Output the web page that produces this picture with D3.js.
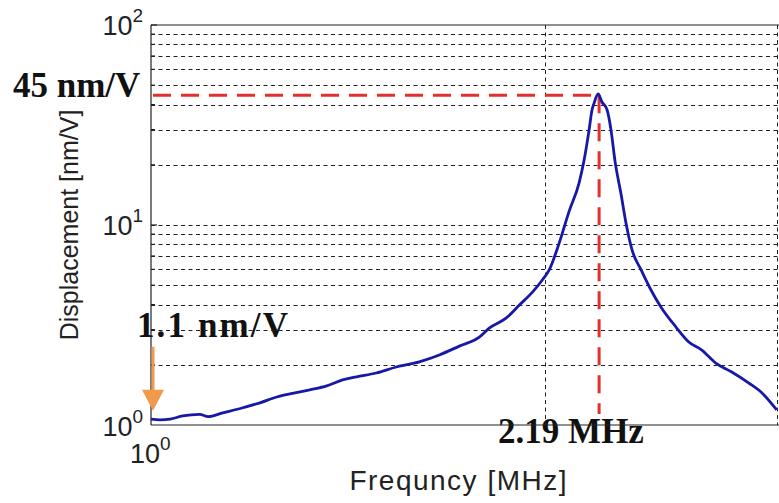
<!DOCTYPE html>
<html>
<head>
<meta charset="utf-8">
<script src="https://cdn.jsdelivr.net/npm/d3@7"></script>
<style>
  body { margin: 0; background: #fff; }
  svg { display: block; }
</style>
</head>
<body>
<svg id="chart"></svg>
<script>
const freq = [1.000, 1.016, 1.034, 1.057, 1.089, 1.105, 1.134, 1.174, 1.210, 1.246,
  1.281, 1.320, 1.360, 1.398, 1.433, 1.483, 1.536, 1.599, 1.656, 1.715,
  1.776, 1.807, 1.862, 1.905, 1.949, 1.983, 2.007, 2.042, 2.078, 2.115,
  2.133, 2.152, 2.163, 2.171, 2.186, 2.201, 2.221, 2.236, 2.252, 2.276,
  2.295, 2.320, 2.357, 2.398, 2.440, 2.505, 2.562, 2.621, 2.686, 2.762,
  2.846, 2.911, 2.988];
const disp = [1.07, 1.06, 1.07, 1.11, 1.13, 1.10, 1.15, 1.22, 1.29, 1.38,
  1.44, 1.50, 1.57, 1.68, 1.74, 1.82, 1.95, 2.07, 2.24, 2.48,
  2.75, 3.05, 3.43, 3.98, 4.62, 5.31, 5.96, 8.1, 11.7, 16.3,
  21.0, 29.9, 37.6, 40.7, 45.2, 41.2, 37.6, 29.9, 20.8, 14.2,
  10.3, 7.5, 5.96, 4.73, 3.89, 3.09, 2.60, 2.37, 2.04, 1.84,
  1.62, 1.45, 1.19];

const yTicks = [1, 10, 100];
const yTickExp = ["0", "1", "2"];
const xTicks = [1];
const xTickExp = ["0"];
const xGrid = [2, 3];

const peakFreq = 2.19;
const peakDisp = 45;
const startDisp = 1.1;

const width = 779, height = 503;
const margin = { top: 25, right: 0, bottom: 78, left: 151 };

const svg = d3.select("#chart").attr("width", width).attr("height", height);

const x = d3.scaleLog().domain([1, 3]).range([margin.left, width - margin.right]);
const y = d3.scaleLog().domain([1, 100]).range([height - margin.bottom, margin.top]);

const data = freq.map((f, i) => ({ f, d: disp[i] }));

// annotation texts sit under the grid, like in the original
const ann = svg.append("g")
  .style("font-family", "'Liberation Serif', 'Times New Roman', serif")
  .style("font-weight", "bold")
  .style("font-size", "35px")
  .attr("fill", "#111");
ann.append("text").attr("x", 13).attr("y", y(peakDisp) + 3).text("45 nm/V");
ann.append("text").attr("x", 137).attr("y", y(startDisp) - 80)
  .attr("textLength", 151).attr("lengthAdjust", "spacing").text("1.1 nm/V");
ann.append("text").attr("x", x(peakFreq) - 101).attr("y", y(1) + 18).text("2.19 MHz");

// grid lines
const minorY = [];
for (let dec = 1; dec < 100; dec *= 10) {
  for (let k = 2; k <= 10; k++) minorY.push(dec * k);
}
const grid = svg.append("g")
  .attr("stroke", "#222")
  .attr("stroke-width", 1)
  .attr("stroke-dasharray", "4,3.5");
grid.selectAll(".hg")
  .data(minorY.filter((v) => v < 100))
  .enter().append("line")
  .attr("x1", x(1)).attr("x2", width)
  .attr("y1", (d) => Math.round(y(d)) + 0.5)
  .attr("y2", (d) => Math.round(y(d)) + 0.5);
grid.selectAll(".vg")
  .data(xGrid)
  .enter().append("line")
  .attr("x1", (d) => Math.round(x(d)) - 1.5)
  .attr("x2", (d) => Math.round(x(d)) - 1.5)
  .attr("y1", y(100)).attr("y2", y(1));

// frame
const frame = svg.append("g").attr("stroke", "#222").attr("stroke-width", 1.2).attr("fill", "none");
frame.append("line").attr("x1", x(1)).attr("x2", width).attr("y1", y(100)).attr("y2", y(100));
frame.append("line").attr("x1", x(1)).attr("x2", width).attr("y1", y(1)).attr("y2", y(1));
frame.append("line").attr("x1", x(1)).attr("x2", x(1)).attr("y1", y(100)).attr("y2", y(1));

// small inward ticks on the left axis
frame.selectAll(".yt")
  .data(minorY)
  .enter().append("line")
  .attr("x1", x(1)).attr("x2", (d) => x(1) + (yTicks.includes(d) ? 6 : 4))
  .attr("y1", (d) => y(d)).attr("y2", (d) => y(d));

// red dashed markers
const red = svg.append("g")
  .attr("stroke", "#e3302f")
  .attr("stroke-width", 3)
  .attr("stroke-dasharray", "18,10")
  .attr("fill", "none");
red.append("line")
  .attr("x1", x(1) + 2).attr("x2", x(peakFreq))
  .attr("y1", y(peakDisp) + 1).attr("y2", y(peakDisp) + 1);
red.append("line")
  .attr("x1", x(peakFreq)).attr("x2", x(peakFreq))
  .attr("y1", y(peakDisp) + 1).attr("y2", y(1) - 11);

// response curve
const line = d3.line()
  .x((d) => x(d.f))
  .y((d) => y(d.d))
  .curve(d3.curveMonotoneX);

svg.append("path")
  .datum(data)
  .attr("fill", "none")
  .attr("stroke", "#1818a8")
  .attr("stroke-width", 2.8)
  .attr("stroke-linejoin", "round")
  .attr("d", line);

// orange arrow pointing at the first point
const ax = x(1) + 2;
const arrow = svg.append("g").attr("fill", "#f19a4b").attr("stroke", "#f19a4b");
arrow.append("line")
  .attr("x1", ax).attr("x2", ax)
  .attr("y1", y(startDisp) - 70).attr("y2", y(startDisp) - 26)
  .attr("stroke-width", 3);
arrow.append("path")
  .attr("stroke", "none")
  .attr("d", `M${ax - 11},${y(startDisp) - 27} L${ax + 11},${y(startDisp) - 27} L${ax},${y(startDisp) - 6} Z`);

// tick labels
const tickFont = "'Liberation Sans', Arial, sans-serif";
const yLab = svg.append("g").style("font-family", tickFont).attr("fill", "#222");
yTicks.forEach((v, i) => {
  const t = yLab.append("text")
    .attr("text-anchor", "end")
    .attr("x", 143)
    .attr("y", y(v) + 10 + (i === 0 ? 1 : 0))
    .style("font-size", "27px");
  t.append("tspan").text("10");
  t.append("tspan").attr("dy", -13).style("font-size", "19px").text(yTickExp[i]);
});

xTicks.forEach((v, i) => {
  const t = yLab.append("text")
    .attr("x", x(v) - 21)
    .attr("y", y(1) + 38)
    .style("font-size", "27px");
  t.append("tspan").text("10");
  t.append("tspan").attr("dy", -13).style("font-size", "19px").text(xTickExp[i]);
});

// axis titles
svg.append("text")
  .attr("transform", `translate(78,${(y(1) + y(100)) / 2}) rotate(-90)`)
  .attr("text-anchor", "middle")
  .style("font-family", tickFont)
  .style("font-size", "25px")
  .attr("fill", "#222")
  .text("Displacement [nm/V]");

svg.append("text")
  .attr("x", 568)
  .attr("y", 490)
  .attr("text-anchor", "end")
  .style("font-family", tickFont)
  .style("font-size", "28px")
  .style("letter-spacing", "1.5px")
  .attr("fill", "#222")
  .text("Frequncy [MHz]");
</script>
</body>
</html>
